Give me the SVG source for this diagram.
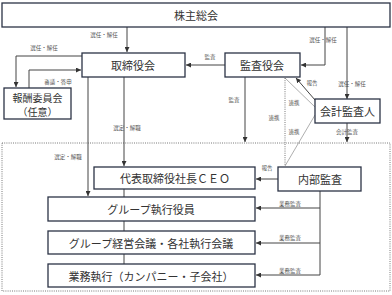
<svg xmlns="http://www.w3.org/2000/svg" width="392" height="295" viewBox="0 0 392 295">
<defs>
<style>
.box{fill:#fff;stroke:#2b3346;stroke-width:1.3}
.t{font-family:"Noto Sans CJK JP","Noto Sans",sans-serif;font-size:11px;fill:#333;text-anchor:middle;dominant-baseline:central}
.s{font-size:10px}
.l{font-family:"Noto Sans CJK JP","Noto Sans",sans-serif;font-size:5.5px;fill:#555;text-anchor:middle;dominant-baseline:central}
.c{fill:none;stroke:#444;stroke-width:1}
.th{fill:none;stroke:#777;stroke-width:0.6}
.d{fill:none;stroke:#555;stroke-width:0.8;stroke-dasharray:1 1.2}
</style>
<marker id="a" viewBox="0 0 6 6" refX="6" refY="3" markerWidth="5" markerHeight="5" orient="auto" markerUnits="userSpaceOnUse">
<path d="M0,0 L6,3 L0,6 z" fill="#333"/>
</marker>
</defs>
<rect width="392" height="295" fill="#fff"/>
<rect x="2" y="143" width="388" height="148" class="d"/>
<g id="connectors">
<path class="c" d="M127,27 V52" marker-end="url(#a)"/>
<path class="c" d="M325,27 V65 H301" marker-end="url(#a)"/>
<path class="c" d="M347,27 V99" marker-end="url(#a)"/>
<path class="c" d="M225,65 H186" marker-end="url(#a)"/>
<path class="c" d="M82,56 H16 V87" marker-end="url(#a)"/>
<path class="c" d="M29,88 V70 H81" marker-end="url(#a)"/>
<path class="c" d="M245,77 V142" marker-end="url(#a)"/>
<path class="c" d="M347,123 V142" marker-end="url(#a)"/>
<path class="c" d="M124,77 V166" marker-end="url(#a)"/>
<path class="c" d="M88,77 V196" marker-end="url(#a)"/>
<path class="c" d="M315,100 L296,78" stroke-width="1.3" marker-end="url(#a)"/>
<path class="th" d="M285,78 L315,107"/>
<path class="th" d="M315,115 L285,166"/>
<path class="d" d="M285,78 V166"/>
<path class="c" d="M278,179 H256" marker-end="url(#a)"/>
<path class="c" d="M124,189 V197 M124,221 V231 M124,254 V264"/>
<path class="c" d="M320,191 V275"/>
<path class="c" d="M320,208 H256" marker-end="url(#a)"/>
<path class="c" d="M320,243 H256" marker-end="url(#a)"/>
<path class="c" d="M320,275 H256" marker-end="url(#a)"/>
</g>
<g id="labels">
<text class="l" x="104" y="35">選任・解任</text>
<text class="l" x="323" y="40">選任・解任</text>
<text class="l" x="352" y="84">選任・解任</text>
<text class="l" x="44" y="48">選任・解任</text>
<text class="l" x="58" y="82">審議・答申</text>
<text class="l" x="210" y="57">監査</text>
<text class="l" x="234" y="100">監査</text>
<text class="l" x="312" y="83">報告</text>
<text class="l" x="294" y="103">連携</text>
<text class="l" x="274" y="118">連携</text>
<text class="l" x="294" y="132">連携</text>
<text class="l" x="347" y="132">会計監査</text>
<text class="l" x="127" y="128">選定・解職</text>
<text class="l" x="68" y="157">選定・解職</text>
<text class="l" x="267" y="168">報告</text>
<text class="l" x="290" y="204">業務監査</text>
<text class="l" x="290" y="238">業務監査</text>
<text class="l" x="290" y="271">業務監査</text>
</g>
<g id="n-shareholders"><rect class="box" x="2" y="3" width="388" height="24"/><text class="t" x="196" y="15">株主総会</text></g>
<g id="n-board"><rect class="box" x="82" y="53" width="103" height="24"/><text class="t" x="133" y="65">取締役会</text></g>
<g id="n-audit-board"><rect class="box" x="225" y="53" width="75" height="24"/><text class="t" x="262" y="65">監査役会</text></g>
<g id="n-comp"><rect class="box" x="4" y="88" width="67" height="31"/><text class="t s" x="37.5" y="97">報酬委員会</text><text class="t s" x="37.5" y="111">（任意）</text></g>
<g id="n-accountant"><rect class="box" x="315" y="99" width="65" height="24"/><text class="t" x="347.5" y="111">会計監査人</text></g>
<g id="n-ceo"><rect class="box" x="94" y="167" width="161" height="22"/><text class="t" x="175" y="178">代表取締役社長ＣＥＯ</text></g>
<g id="n-internal"><rect class="box" x="278" y="167" width="83" height="24"/><text class="t" x="320" y="179">内部監査</text></g>
<g id="n-officers"><rect class="box" x="48" y="197" width="207" height="24"/><text class="t" x="151" y="209">グループ執行役員</text></g>
<g id="n-meeting"><rect class="box" x="48" y="231" width="207" height="23"/><text class="t" x="151" y="242.5">グループ経営会議・各社執行会議</text></g>
<g id="n-exec"><rect class="box" x="48" y="264" width="207" height="23"/><text class="t" x="151" y="275.5">業務執行（カンパニー・子会社）</text></g>
</svg>
